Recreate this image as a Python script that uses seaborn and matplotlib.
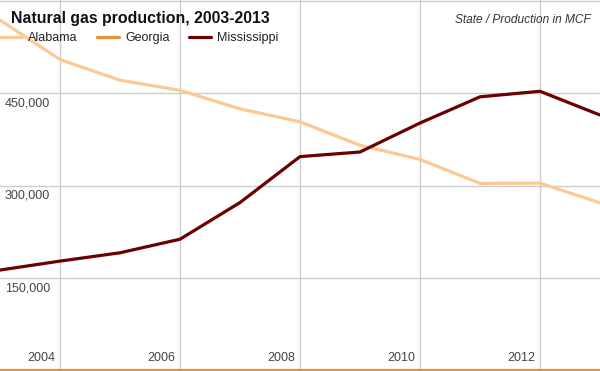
import pandas as pd
import matplotlib.pyplot as plt
import seaborn as sns

years = list(range(2003, 2014))
alabama = [569000, 505000, 471500, 455000, 425000, 404000, 366000, 343000, 304000, 304500, 272500]
georgia = [1300, 1300, 1300, 1300, 1300, 1300, 1300, 1300, 1300, 1300, 1300]
mississippi = [163500, 178000, 191500, 213500, 273000, 347500, 355000, 402000, 444500, 453500, 415000]

states = ["Alabama", "Georgia", "Mississippi"]
colors = {"Alabama": "#fbc994", "Georgia": "#e8923a", "Mississippi": "#6b0000"}
y_ticks = [150000, 300000, 450000]
x_ticks = [2004, 2006, 2008, 2010, 2012]

df = pd.DataFrame({
    "Year": years * 3,
    "Production": alabama + georgia + mississippi,
    "State": ["Alabama"] * 11 + ["Georgia"] * 11 + ["Mississippi"] * 11,
})

sns.set_theme(style="white")
plt.rcParams["font.family"] = ["Liberation Sans", "DejaVu Sans"]

fig = plt.figure(figsize=(6, 3.71), dpi=100)
ax = fig.add_axes([0, 0, 1, 1])

sns.lineplot(
    data=df,
    x="Year",
    y="Production",
    hue="State",
    hue_order=states,
    palette=colors,
    linewidth=2.3,
    ax=ax,
)

ax.set_xlim(2003, 2013)
ax.set_ylim(-300, 601600)
ax.set_xticks(x_ticks)
ax.set_yticks(y_ticks + [600000])
ax.set_xticklabels([])
ax.set_yticklabels([])
ax.tick_params(length=0)
ax.grid(True, color="#cccccc", linewidth=1)
ax.set_axisbelow(True)
for s in ax.spines.values():
    s.set_visible(False)
ax.set_xlabel("")
ax.set_ylabel("")

# tick labels sit inside the plot
for v in y_ticks:
    ax.annotate(f"{v:,}", xy=(0, v), xycoords=("axes fraction", "data"),
                xytext=(5, -4), textcoords="offset pixels",
                ha="left", va="top", fontsize=9, color="#444444")
for v in x_ticks:
    ax.annotate(str(v), xy=(v, 0), xycoords=("data", "axes fraction"),
                xytext=(-5, 7), textcoords="offset pixels",
                ha="right", va="bottom", fontsize=9, color="#444444")

fig.text(11 / 600, 1 - 19 / 371, "Natural gas production, 2003-2013",
         fontsize=11.4, fontweight="bold", color="#111111", ha="left", va="center")
fig.text(591 / 600, 1 - 20 / 371, "State / Production in MCF",
         fontsize=8.6, style="italic", color="#333333", ha="right", va="center")

ax.legend(
    loc="center left",
    bbox_to_anchor=(0, 1 - 38 / 371),
    ncol=3,
    frameon=False,
    fontsize=9,
    handlelength=1.75,
    handletextpad=0.5,
    columnspacing=1.55,
    borderpad=0,
    borderaxespad=0,
    labelcolor="#222222",
)

fig.savefig("out.png", dpi=100)
